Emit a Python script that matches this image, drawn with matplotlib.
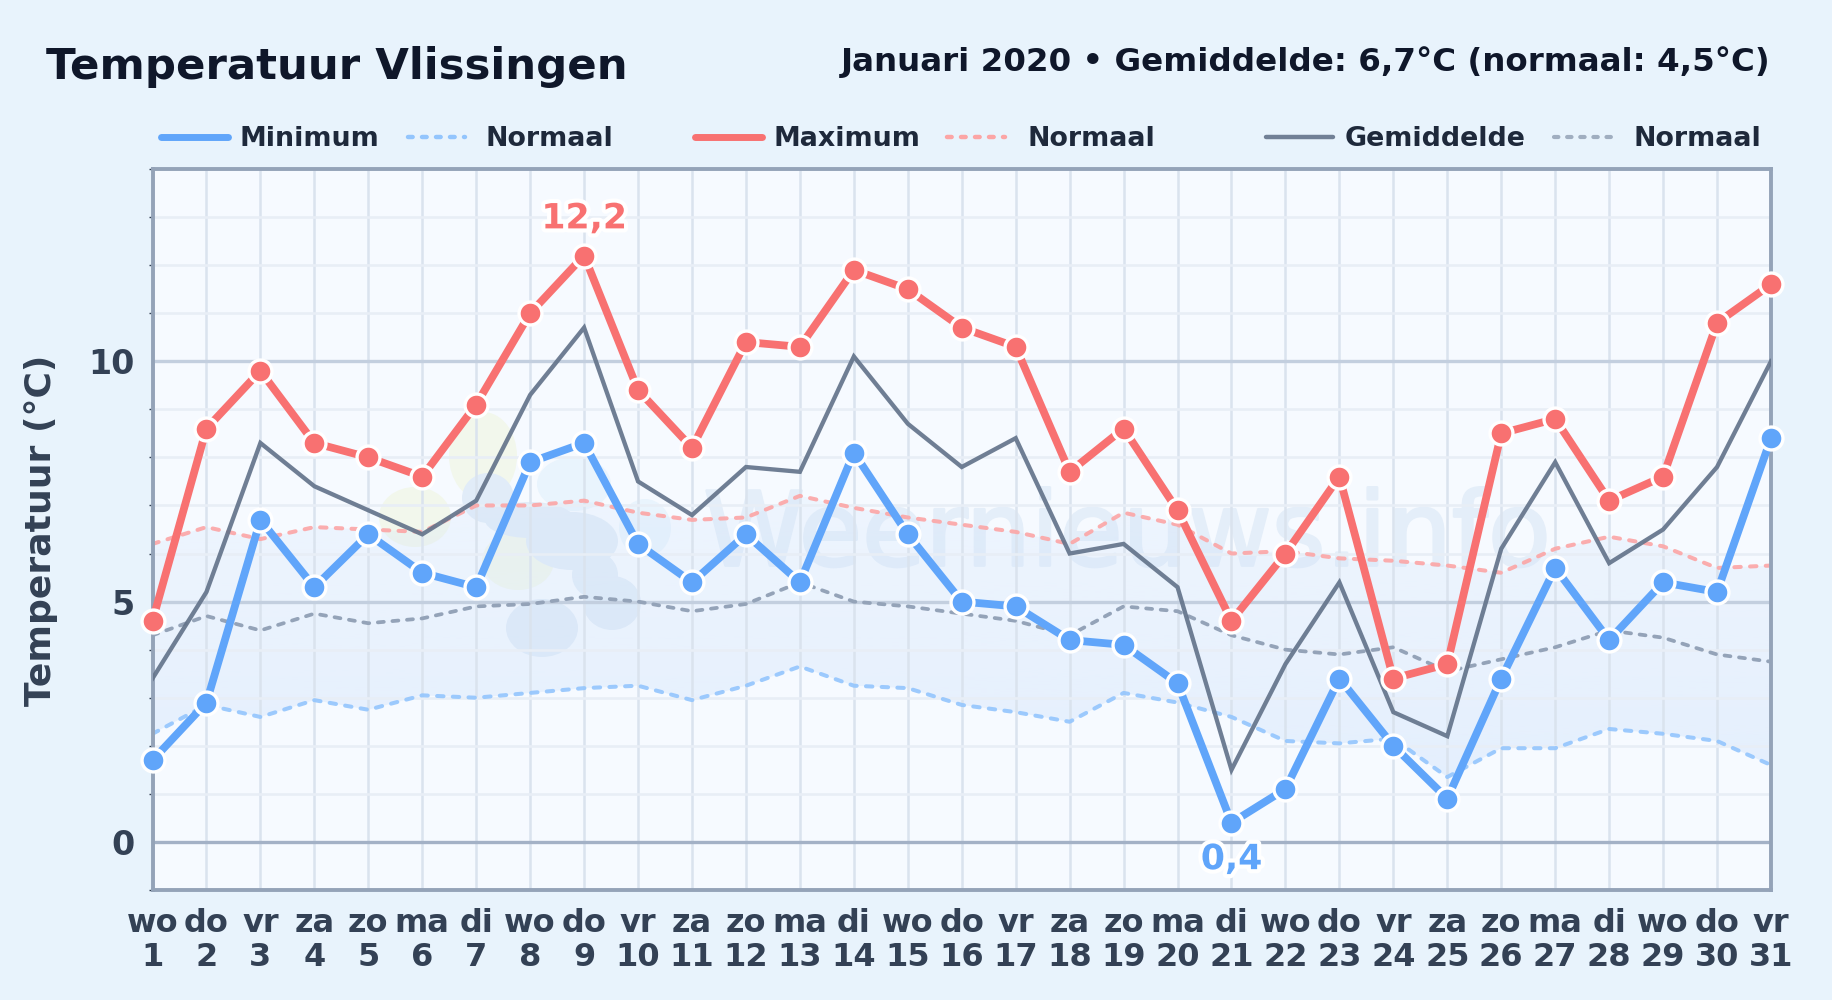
import numpy as np
import matplotlib
matplotlib.use("Agg")
import matplotlib.pyplot as plt
import matplotlib.patheffects as pe
from matplotlib.lines import Line2D
from matplotlib.patches import Ellipse

W, H = 1832, 1000

days = list(range(1, 32))
weekdays = ["wo", "do", "vr", "za", "zo", "ma", "di", "wo", "do", "vr", "za", "zo", "ma", "di", "wo", "do",
            "vr", "za", "zo", "ma", "di", "wo", "do", "vr", "za", "zo", "ma", "di", "wo", "do", "vr"]

t_min = [1.7, 2.9, 6.7, 5.3, 6.4, 5.6, 5.3, 7.9, 8.3, 6.2, 5.4, 6.4, 5.4, 8.1, 6.4, 5.0,
         4.9, 4.2, 4.1, 3.3, 0.4, 1.1, 3.4, 2.0, 0.9, 3.4, 5.7, 4.2, 5.4, 5.2, 8.4]
t_max = [4.6, 8.6, 9.8, 8.3, 8.0, 7.6, 9.1, 11.0, 12.2, 9.4, 8.2, 10.4, 10.3, 11.9, 11.5, 10.7,
         10.3, 7.7, 8.6, 6.9, 4.6, 6.0, 7.6, 3.4, 3.7, 8.5, 8.8, 7.1, 7.6, 10.8, 11.6]
t_mean = [3.4, 5.2, 8.3, 7.4, 6.9, 6.4, 7.1, 9.3, 10.7, 7.5, 6.8, 7.8, 7.7, 10.1, 8.7, 7.8,
          8.4, 6.0, 6.2, 5.3, 1.5, 3.7, 5.4, 2.7, 2.2, 6.1, 7.9, 5.8, 6.5, 7.8, 10.0]
norm_min = [2.25, 2.85, 2.6, 2.95, 2.75, 3.05, 3.0, 3.1, 3.2, 3.25, 2.95, 3.25, 3.65, 3.25, 3.2, 2.85,
            2.7, 2.5, 3.1, 2.9, 2.6, 2.1, 2.05, 2.15, 1.35, 1.95, 1.95, 2.35, 2.25, 2.1, 1.6]
norm_max = [6.2, 6.55, 6.3, 6.55, 6.5, 6.45, 7.0, 7.0, 7.1, 6.85, 6.7, 6.75, 7.2, 6.95, 6.75, 6.6,
            6.45, 6.2, 6.85, 6.6, 6.0, 6.05, 5.9, 5.85, 5.75, 5.6, 6.1, 6.35, 6.15, 5.7, 5.75]
norm_mean = [4.3, 4.7, 4.4, 4.75, 4.55, 4.65, 4.9, 4.95, 5.1, 5.0, 4.8, 4.95, 5.4, 5.0, 4.9, 4.75,
             4.6, 4.3, 4.9, 4.8, 4.3, 4.0, 3.9, 4.05, 3.55, 3.8, 4.05, 4.4, 4.25, 3.9, 3.75]

BLUE, RED, GREY = "#60a5fa", "#f87171", "#64748b"
INK, LABEL = "#0f172a", "#334155"

plt.rcParams["font.family"] = "DejaVu Sans"
plt.rcParams["font.weight"] = "bold"

fig = plt.figure(figsize=(W / 100, H / 100), dpi=100, facecolor="#e8f3fc")
L, R, T, B = 152.5, 1771, 169, 890
ax = fig.add_axes([L / W, 1 - B / H, (R - L) / W, (B - T) / H])
ax.set_xlim(1, 31)
ax.set_ylim(-1, 14)


def fx(px):
    return px / W


def fy(px):
    return 1 - px / H


# ---- Background ----
ax.set_zorder(2)
ax.patch.set_alpha(0)
fig.add_artist(plt.Rectangle((L / W, 1 - B / H), (R - L) / W, (B - T) / H, transform=fig.transFigure,
                             fc="#f6faff", ec="none", zorder=0.5))

# band gets stronger towards the bottom
grad = np.linspace(0, 1, 256).reshape(-1, 1)
band_img = np.ones((256, 1, 4))
band_img[..., :3] = matplotlib.colors.to_rgb("#cfe2fb")
band_img[..., 3] = 0.2 + 0.25 * grad
band = ax.fill_between(days, norm_min, norm_max, color="none", lw=0)
im = ax.imshow(band_img, extent=(1, 31, 1.3, 7.3), origin="upper", aspect="auto", zorder=0.5)
im.set_clip_path(band.get_paths()[0], transform=ax.transData)
ax.set_xlim(1, 31)
ax.set_ylim(-1, 14)

minor = [y for y in range(-1, 15) if y % 5 != 0]
ax.vlines(days, -1, 14, color="#dae3ee", lw=1.8, zorder=1)
ax.hlines(minor, 1, 31, color="#e8eef6", lw=1.9, zorder=1)
ax.hlines([5, 10], 1, 31, color="#c3cfdf", lw=2.4, zorder=1)
ax.hlines([0], 1, 31, color="#a3b1c6", lw=2.4, zorder=1)

# ---- Watermark ----
GREEN, DARK, PALE = "#f2f7ec", "#e1ecf8", "#e9f4fd"
blobs = [(483, 456, 68, 88, GREEN), (415, 517, 72, 60, GREEN), (518, 561, 72, 58, GREEN),
         (488, 498, 52, 50, DARK), (572, 541, 92, 58, DARK), (542, 628, 72, 58, DARK),
         (612, 603, 58, 54, DARK), (574, 484, 74, 54, PALE), (645, 528, 52, 58, PALE),
         (530, 520, 90, 36, DARK), (595, 575, 46, 46, DARK)]
for px, py, w, h, c in blobs:
    fig.add_artist(Ellipse((fx(px), fy(py)), w / W, h / H, transform=fig.transFigure,
                           fc=c, ec="none", zorder=1.2))
fig.text(fx(1127), fy(537), "Weernieuws.info", fontsize=74, fontweight="normal", color="#e4eef9",
         ha="center", va="center", zorder=1.3,
         path_effects=[pe.withStroke(linewidth=2, foreground="#e4eef9")])

# ---- Normal lines ----
dash = (0, (1.6, 2.3))
ax.plot(days, norm_min, color="#93c5fd", lw=2.9, ls=dash, dash_capstyle="round", alpha=0.9, zorder=2)
ax.plot(days, norm_max, color="#fca5a5", lw=2.9, ls=dash, dash_capstyle="round", alpha=0.9, zorder=2)
ax.plot(days, norm_mean, color="#94a3b8", lw=2.7, ls=dash, dash_capstyle="round", zorder=2)

# ---- Measured lines ----
ax.plot(days, t_mean, color=GREY, lw=3.1, alpha=0.92, zorder=3, solid_joinstyle="miter")
for vals, col in ((t_min, BLUE), (t_max, RED)):
    ax.plot(days, vals, color=col, lw=5.6, marker="o", ms=16.5, mfc=col, mec="white", mew=2.4,
            zorder=4, clip_on=False)

# ---- Extremes ----
halo = [pe.withStroke(linewidth=6, foreground="white")]
ax.annotate("12,2", (9, 12.2), xytext=(0, 14.5), textcoords="offset points", ha="center", va="bottom",
            fontsize=25, color=RED, path_effects=halo, zorder=5)
ax.annotate("0,4", (21, 0.4), xytext=(0, -14), textcoords="offset points", ha="center", va="top",
            fontsize=25, color=BLUE, path_effects=halo, zorder=5)

# ---- Axes ----
for s in ax.spines.values():
    s.set_color("#94a3b8")
    s.set_linewidth(2.8)
ax.set_xticks(days)
ax.set_xticklabels([f"{d}\n{n}" for d, n in zip(weekdays, days)], fontsize=23, color=LABEL, linespacing=1.12)
ax.set_yticks([0, 5, 10])
ax.set_yticklabels(["0", "5", "10"], fontsize=24, color=LABEL)
ax.set_yticks(minor, minor=True)
ax.tick_params(axis="x", length=0, pad=13)
ax.tick_params(axis="y", which="major", length=0, pad=13)
ax.tick_params(axis="y", which="minor", length=3, width=1, color="#334155", direction="out")
fig.text(fx(41), fy(530), "Temperatuur (°C)", rotation=90, fontsize=26, color=LABEL, ha="center", va="center")

# ---- Header ----
fig.text(fx(46), fy(67), "Temperatuur Vlissingen", fontsize=31.3, color=INK, ha="left", va="center")
fig.text(fx(1770), fy(62), "Januari 2020 • Gemiddelde: 6,7°C (normaal: 4,5°C)", fontsize=23.4, color=INK,
         ha="right", va="center")

# ---- Legend ----
legend_y = fy(137)
legend_dash = (0, (1.05, 2.1))
legend_items = [
    (161, 228, 240, "Minimum", BLUE, 5.0, "-"),
    (408, 465, 486, "Normaal", "#93c5fd", 3.2, legend_dash),
    (695, 762, 773, "Maximum", RED, 5.0, "-"),
    (947, 1005, 1027, "Normaal", "#fca5a5", 3.2, legend_dash),
    (1266, 1333, 1345, "Gemiddelde", "#718096", 3.2, "-"),
    (1554, 1619, 1633, "Normaal", "#a0aec0", 3.0, legend_dash),
]
for x0, x1, xt, name, col, lw, ls in legend_items:
    fig.add_artist(Line2D([fx(x0), fx(x1)], [legend_y, legend_y], color=col, lw=lw, ls=ls,
                          solid_capstyle="round", dash_capstyle="round", transform=fig.transFigure))
    fig.text(fx(xt), fy(139), name, fontsize=19.4, color="#1e293b", ha="left", va="center")

fig.savefig("out.png", dpi=100, facecolor=fig.get_facecolor())
